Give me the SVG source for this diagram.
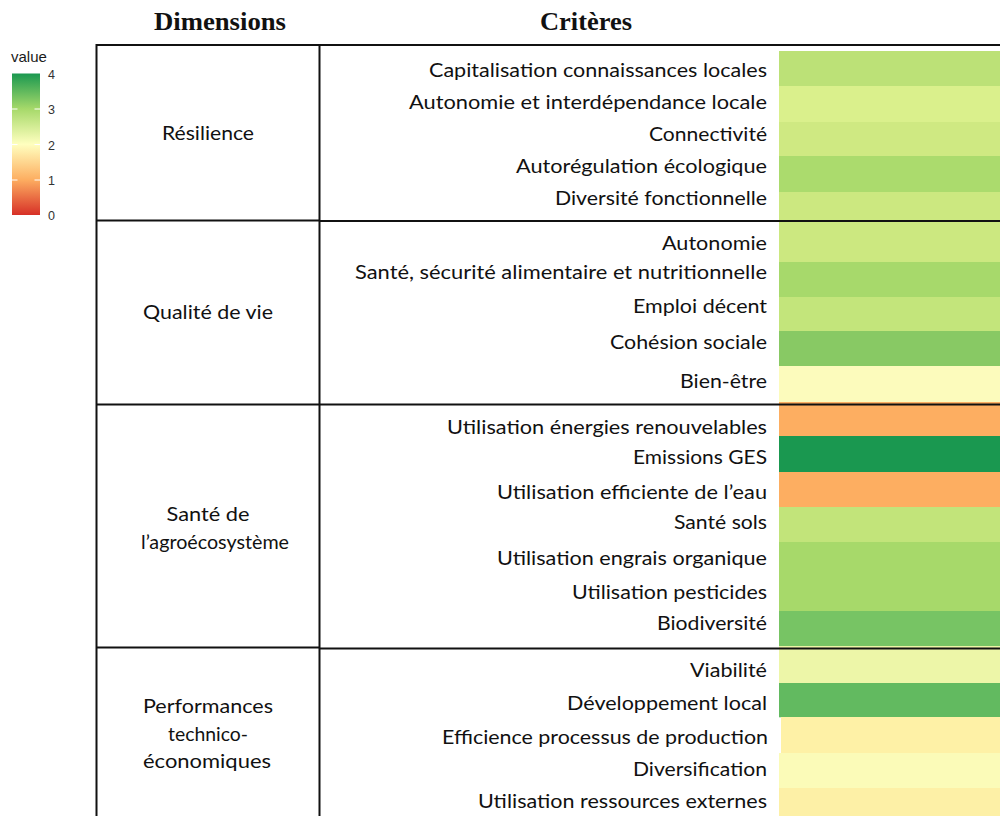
<svg xmlns="http://www.w3.org/2000/svg" width="1000" height="816" viewBox="0 0 1000 816">
<style>
.hdr{font-family:"Liberation Serif","Times New Roman",serif;font-weight:bold;font-size:26px;fill:#111;text-anchor:middle}
.crit{font-family:Lato,"Liberation Sans",sans-serif;font-size:19.5px;fill:#111}
.dim{font-family:Lato,"Liberation Sans",sans-serif;font-size:20px;fill:#111;text-anchor:middle}
.grid line{stroke:#111;stroke-width:2}
.lg{font-family:"Liberation Sans",Arial,sans-serif;fill:#333;font-size:12.5px}
.tick{stroke:#fff;stroke-width:1}
</style>
<defs>
<linearGradient id="leg" x1="0" y1="1" x2="0" y2="0">
<stop offset="0" stop-color="#D73027"/>
<stop offset="0.25" stop-color="#FDAE61"/>
<stop offset="0.5" stop-color="#FFFFBF"/>
<stop offset="0.75" stop-color="#A6D96A"/>
<stop offset="1" stop-color="#1A9850"/>
</linearGradient>
</defs>
<rect width="1000" height="816" fill="#fff"/>

<g id="legend">
<text x="11" y="62" font-family="Liberation Sans,Arial,sans-serif" font-size="15" fill="#1a1a1a">value</text>
<rect x="12" y="73.5" width="28" height="141.5" fill="url(#leg)"/>
<line class="tick" x1="12" y1="109" x2="17.5" y2="109"/><line class="tick" x1="34.5" y1="109" x2="40" y2="109"/>
<line class="tick" x1="12" y1="144.5" x2="17.5" y2="144.5"/><line class="tick" x1="34.5" y1="144.5" x2="40" y2="144.5"/>
<line class="tick" x1="12" y1="180" x2="17.5" y2="180"/><line class="tick" x1="34.5" y1="180" x2="40" y2="180"/>
<text class="lg" x="48" y="78.5">4</text>
<text class="lg" x="48" y="114">3</text>
<text class="lg" x="48" y="149.5">2</text>
<text class="lg" x="48" y="185">1</text>
<text class="lg" x="48" y="220">0</text>
</g>

<g id="headers">
<text class="hdr" x="220" y="30" textLength="132" lengthAdjust="spacingAndGlyphs">Dimensions</text>
<text class="hdr" x="586" y="30" textLength="92" lengthAdjust="spacingAndGlyphs">Critères</text>
</g>

<g id="heatmap">
<rect x="779" y="51" width="221" height="35.3" fill="#BCE177"/>
<rect x="779" y="86" width="221" height="36.3" fill="#DAF08C"/>
<rect x="779" y="122" width="221" height="34.3" fill="#CFE982"/>
<rect x="779" y="156" width="221" height="36.3" fill="#ABDB6D"/>
<rect x="779" y="192" width="221" height="35.3" fill="#CCE880"/>
<rect x="779" y="227" width="221" height="35.3" fill="#CCE880"/>
<rect x="779" y="262" width="221" height="35.3" fill="#A7D96B"/>
<rect x="779" y="297" width="221" height="34.3" fill="#C3E57B"/>
<rect x="779" y="331" width="221" height="35.3" fill="#88C964"/>
<rect x="779" y="366" width="221" height="36.3" fill="#FCFBBC"/>
<rect x="779" y="402" width="221" height="34.3" fill="#FDAE61"/>
<rect x="779" y="436" width="221" height="36.3" fill="#1A9850"/>
<rect x="779" y="472" width="221" height="35.3" fill="#FDAE61"/>
<rect x="779" y="507" width="221" height="35.3" fill="#C2E47A"/>
<rect x="779" y="542" width="221" height="35.3" fill="#A7D96A"/>
<rect x="779" y="577" width="221" height="34.3" fill="#A7D96A"/>
<rect x="779" y="611" width="221" height="35.3" fill="#77C464"/>
<rect x="779" y="646" width="221" height="37.3" fill="#EDF6A8"/>
<rect x="779" y="683" width="221" height="34.3" fill="#62BA60"/>
<rect x="781" y="717" width="219" height="36.3" fill="#FEF1A6"/>
<rect x="779" y="753" width="221" height="35.3" fill="#FBFBB8"/>
<rect x="779" y="788" width="221" height="28" fill="#FDF0A6"/>
</g>

<g id="dim-resilience"><text class="dim" x="208" y="140" textLength="92" lengthAdjust="spacingAndGlyphs">Résilience</text></g>
<g id="dim-qualite"><text class="dim" x="208" y="319" textLength="130" lengthAdjust="spacingAndGlyphs">Qualité de vie</text></g>
<g id="dim-sante"><text class="dim" x="208" y="521" textLength="83" lengthAdjust="spacingAndGlyphs">Santé de</text><text class="dim" x="215" y="549" textLength="148" lengthAdjust="spacingAndGlyphs">l’agroécosystème</text></g>
<g id="dim-perf"><text class="dim" x="208" y="713" textLength="130" lengthAdjust="spacingAndGlyphs">Performances</text><text class="dim" x="208" y="741" textLength="80" lengthAdjust="spacingAndGlyphs">technico-</text><text class="dim" x="207" y="768" textLength="128" lengthAdjust="spacingAndGlyphs">économiques</text></g>

<g id="criteria">
<text class="crit" x="429" y="77" textLength="338" lengthAdjust="spacingAndGlyphs">Capitalisation connaissances locales</text>
<text class="crit" x="409" y="109" textLength="358" lengthAdjust="spacingAndGlyphs">Autonomie et interdépendance locale</text>
<text class="crit" x="649" y="141" textLength="118" lengthAdjust="spacingAndGlyphs">Connectivité</text>
<text class="crit" x="516" y="173" textLength="251" lengthAdjust="spacingAndGlyphs">Autorégulation écologique</text>
<text class="crit" x="555" y="204.5" textLength="212" lengthAdjust="spacingAndGlyphs">Diversité fonctionnelle</text>
<text class="crit" x="662" y="250" textLength="105" lengthAdjust="spacingAndGlyphs">Autonomie</text>
<text class="crit" x="355" y="278.5" textLength="412" lengthAdjust="spacingAndGlyphs">Santé, sécurité alimentaire et nutritionnelle</text>
<text class="crit" x="633" y="312.5" textLength="134" lengthAdjust="spacingAndGlyphs">Emploi décent</text>
<text class="crit" x="610" y="349" textLength="157" lengthAdjust="spacingAndGlyphs">Cohésion sociale</text>
<text class="crit" x="680" y="387.5" textLength="87" lengthAdjust="spacingAndGlyphs">Bien-être</text>
<text class="crit" x="447" y="433.5" textLength="320" lengthAdjust="spacingAndGlyphs">Utilisation énergies renouvelables</text>
<text class="crit" x="633" y="463.5" textLength="134" lengthAdjust="spacingAndGlyphs">Emissions GES</text>
<text class="crit" x="497" y="498.5" textLength="270" lengthAdjust="spacingAndGlyphs">Utilisation efficiente de l’eau</text>
<text class="crit" x="674" y="529" textLength="93" lengthAdjust="spacingAndGlyphs">Santé sols</text>
<text class="crit" x="497" y="564.5" textLength="270" lengthAdjust="spacingAndGlyphs">Utilisation engrais organique</text>
<text class="crit" x="572" y="598.5" textLength="195" lengthAdjust="spacingAndGlyphs">Utilisation pesticides</text>
<text class="crit" x="657" y="630" textLength="110" lengthAdjust="spacingAndGlyphs">Biodiversité</text>
<text class="crit" x="690" y="677" textLength="77" lengthAdjust="spacingAndGlyphs">Viabilité</text>
<text class="crit" x="567" y="710" textLength="200" lengthAdjust="spacingAndGlyphs">Développement local</text>
<text class="crit" x="442" y="743.5" textLength="326" lengthAdjust="spacingAndGlyphs">Efficience processus de production</text>
<text class="crit" x="633" y="776" textLength="134" lengthAdjust="spacingAndGlyphs">Diversification</text>
<text class="crit" x="478" y="808" textLength="289" lengthAdjust="spacingAndGlyphs">Utilisation ressources externes</text>
</g>

<g id="grid" class="grid">
<line x1="96" y1="45" x2="1000" y2="45"/>
<line x1="96.5" y1="44" x2="96.5" y2="816"/>
<line x1="319.5" y1="44" x2="319.5" y2="816"/>
<line x1="96" y1="220.5" x2="320" y2="220.5"/>
<line x1="319" y1="221" x2="1000" y2="221"/>
<line x1="96" y1="404.5" x2="1000" y2="404.5"/>
<line x1="96" y1="647.5" x2="320" y2="647.5"/>
<line x1="319" y1="648.5" x2="1000" y2="648.5"/>
</g>
</svg>
